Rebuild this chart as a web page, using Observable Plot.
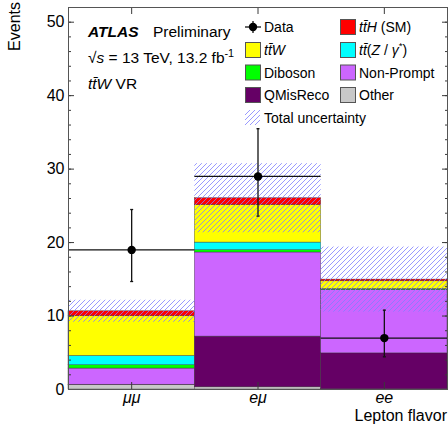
<!DOCTYPE html>
<html>
<head>
<meta charset="utf-8">
<script src="https://cdn.jsdelivr.net/npm/d3@7"></script>
<script src="https://cdn.jsdelivr.net/npm/@observablehq/plot@0.6"></script>
<style>
  html, body { margin: 0; padding: 0; background: #fff; }
  #wrap { position: relative; width: 448px; height: 433px; overflow: hidden; }
  #overlay { position: absolute; left: 0; top: 0; pointer-events: none; }
</style>
</head>
<body>
<div id="wrap">
  <div id="chart"></div>
  <svg id="overlay" width="448" height="433"></svg>
</div>
<script>
// ---- data ----
const bins = ["μμ", "eμ", "ee"];
// stack order, bottom to top
const comps = ["Other", "QMisReco", "Non-Prompt", "Diboson", "ttZ", "ttW", "ttH"];
const compColors = ["#c8c8c8", "#650065", "#cc66ff", "#00ff00", "#00ffff", "#ffff00", "#ff0000"];
const other     = [0.6, 0.3, 0.02];
const qmisreco  = [0.05, 6.9, 4.9];
const nonPrompt = [2.2, 11.45, 8.63];
const diboson   = [0.45, 0.32, 0.05];
const ttZ       = [1.27, 1.03, 0.08];
const ttW       = [5.4, 5.09, 1.05];
const ttH       = [0.68, 0.95, 0.23];
const totalUnc  = [1.5, 4.7, 4.43];
const dataCounts  = [19, 29, 7];
const dataErrLow  = [4.3, 5.4, 2.55];
const dataErrHigh = [5.5, 6.5, 3.8];
const yMajorTicks = [0, 10, 20, 30, 40, 50];

// ---- derived ----
const layers = [other, qmisreco, nonPrompt, diboson, ttZ, ttW, ttH];
const rows = [];
const totals = [];
bins.forEach((b, i) => {
  let base = 0;
  layers.forEach((arr, k) => {
    rows.push({i, comp: comps[k], y1: base, y2: base + arr[i]});
    base += arr[i];
  });
  totals.push(base);
});
const idx = bins.map((b, i) => i);
const centers = idx.map(i => i + 0.5);
const yMinorTicks = d3.range(0, 53, 2);
const caps = idx.flatMap(i => [
  {x: i + 0.5, y: dataCounts[i] - dataErrLow[i]},
  {x: i + 0.5, y: dataCounts[i] + dataErrHigh[i]}
]);
const capSymbol = {draw(ctx) { ctx.moveTo(-1.5, 0); ctx.lineTo(1.5, 0); }};
const axisColor = "#3a3a3a";

function addHatch(svgSel, id) {
  const p = svgSel.insert("defs", ":first-child").append("pattern")
    .attr("id", id).attr("patternUnits", "userSpaceOnUse")
    .attr("width", 5).attr("height", 5);
  p.append("path").attr("d", "M-1,1 l2,-2 M0,5 l5,-5 M4,6 l2,-2")
    .attr("fill", "none")
    .attr("style", "stroke: rgb(128,128,255); stroke-width: 1px; stroke-opacity: 0.8");
}

const chart = Plot.plot({
  width: 448, height: 433,
  marginLeft: 68, marginRight: 1, marginTop: 7, marginBottom: 44,
  x: {domain: [0, 3]},
  y: {domain: [0, 52]},
  color: {domain: comps, range: compColors},
  style: {fontFamily: "'Liberation Sans', Arial, sans-serif", fontSize: "16px", color: "#000", background: "#fff", overflow: "visible"},
  marks: [
    Plot.rect(rows, {x1: d => d.i, x2: d => d.i + 1, y1: "y1", y2: "y2", fill: "comp", stroke: "#333", strokeWidth: 0.5, strokeOpacity: 0.8}),
    Plot.rect(idx, {x1: i => i, x2: i => i + 1, y1: i => totals[i] - totalUnc[i], y2: i => totals[i] + totalUnc[i], fill: "url(#hatchPlot)"}),
    Plot.ruleY(idx, {y: i => dataCounts[i], x1: i => i, x2: i => i + 1, stroke: "#111", strokeWidth: 1.3}),
    Plot.ruleX(idx, {x: i => i + 0.5, y1: i => dataCounts[i] - dataErrLow[i], y2: i => dataCounts[i] + dataErrHigh[i], stroke: "#111", strokeWidth: 1.3}),
    Plot.dot(caps, {x: "x", y: "y", symbol: capSymbol, stroke: "#111", strokeWidth: 1.3, fill: "none"}),
    Plot.dot(idx, {x: i => i + 0.5, y: i => dataCounts[i], r: 4.2, fill: "#000", stroke: "none"}),
    Plot.axisY({ticks: yMinorTicks, tickSize: -3, tickFormat: () => "", label: null, stroke: axisColor}),
    Plot.axisY({ticks: yMajorTicks, tickSize: -6, tickFormat: () => "", label: null, stroke: axisColor}),
    Plot.axisY({ticks: yMajorTicks, tickSize: 0, tickPadding: 4, label: null, fill: "#000"}),
    Plot.axisY({anchor: "right", ticks: yMinorTicks, tickSize: -3, tickFormat: () => "", label: null, stroke: axisColor}),
    Plot.axisY({anchor: "right", ticks: yMajorTicks, tickSize: -6, tickFormat: () => "", label: null, stroke: axisColor}),
    Plot.axisX({anchor: "top", ticks: centers, tickSize: -6, tickFormat: () => "", label: null, stroke: axisColor}),
    Plot.axisX({anchor: "bottom", ticks: centers, tickSize: -7, tickFormat: () => "", label: null, stroke: axisColor}),
    Plot.axisX({anchor: "bottom", ticks: centers, tickSize: 0, tickPadding: 2, tickFormat: d => bins[Math.floor(d)], fontStyle: "italic", label: null, fill: "#000"}),
    Plot.frame({stroke: "#555", strokeWidth: 1})
  ]
});
addHatch(d3.select(chart), "hatchPlot");
document.getElementById("chart").appendChild(chart);

// ---- overlay: titles, legend, axis titles ----
const ov = d3.select("#overlay").style("font-family", "'Liberation Sans', Arial, sans-serif");
addHatch(ov, "hatchLegend");

function richText(sel, x, y, size, segs) {
  const t = sel.append("text").attr("x", x).attr("y", y).attr("font-size", size).attr("fill", "#000");
  segs.forEach(s => {
    const ts = t.append("tspan").text(s.t);
    if (s.i) ts.attr("font-style", "italic");
    if (s.b) ts.attr("font-weight", "bold");
    if (s.sup) ts.attr("font-size", size * 0.7).attr("dy", -size * 0.4);
    if (s.down) ts.attr("dy", size * 0.4);
  });
  return t;
}

// axis titles
ov.append("text").attr("transform", "translate(20,2) rotate(-90)").attr("text-anchor", "end")
  .attr("font-size", 16).text("Events");
ov.append("text").attr("x", 447).attr("y", 421).attr("text-anchor", "end")
  .attr("font-size", 16).text("Lepton flavor");

// ATLAS block
richText(ov, 88, 37, 15.5, [{t: "ATLAS", i: 1, b: 1}]);
richText(ov, 153, 37, 15.5, [{t: "Preliminary"}]);
richText(ov, 88, 63, 15.5, [{t: "√"}, {t: "s", i: 1}, {t: " = 13 TeV, 13.2 fb"}, {t: "-1", sup: 1}]);
richText(ov, 88, 89, 15.5, [{t: "tt̄W", i: 1}, {t: " VR"}]);

// legend
const legendEntries = [
  {col: 0, row: 0, kind: "data", segs: [{t: "Data"}]},
  {col: 0, row: 1, kind: "ttW", segs: [{t: "tt̄W", i: 1}]},
  {col: 0, row: 2, kind: "Diboson", segs: [{t: "Diboson"}]},
  {col: 0, row: 3, kind: "QMisReco", segs: [{t: "QMisReco"}]},
  {col: 0, row: 4, kind: "unc", segs: [{t: "Total uncertainty"}]},
  {col: 1, row: 0, kind: "ttH", segs: [{t: "tt̄H", i: 1}, {t: " (SM)"}]},
  {col: 1, row: 1, kind: "ttZ", segs: [{t: "tt̄", i: 1}, {t: "("}, {t: "Z", i: 1}, {t: " / "}, {t: "γ", i: 1}, {t: "*", sup: 1}, {t: ")", down: 1}]},
  {col: 1, row: 2, kind: "Non-Prompt", segs: [{t: "Non-Prompt"}]},
  {col: 1, row: 3, kind: "Other", segs: [{t: "Other"}]}
];
const colX = [245, 340];
const rowY = [27, 50, 72.5, 95, 117.5];
legendEntries.forEach(e => {
  const x = colX[e.col], cy = rowY[e.row];
  if (e.kind === "data") {
    ov.append("line").attr("x1", x).attr("x2", x + 16).attr("y1", cy).attr("y2", cy).attr("stroke", "#111").attr("stroke-width", 1.3);
    ov.append("line").attr("x1", x + 8).attr("x2", x + 8).attr("y1", cy - 6).attr("y2", cy + 6).attr("stroke", "#111").attr("stroke-width", 1.3);
    ov.append("circle").attr("cx", x + 8).attr("cy", cy).attr("r", 4.2).attr("fill", "#000");
  } else if (e.kind === "unc") {
    ov.append("rect").attr("x", x).attr("y", cy - 7.5).attr("width", 15).attr("height", 15).attr("fill", "url(#hatchLegend)");
  } else {
    ov.append("rect").attr("x", x + 0.5).attr("y", cy - 7.5).attr("width", 15).attr("height", 15)
      .attr("fill", compColors[comps.indexOf(e.kind)]).attr("stroke", "#555").attr("stroke-width", 1);
  }
  richText(ov, x + 19, cy + 5, 14, e.segs);
});
</script>
</body>
</html>
